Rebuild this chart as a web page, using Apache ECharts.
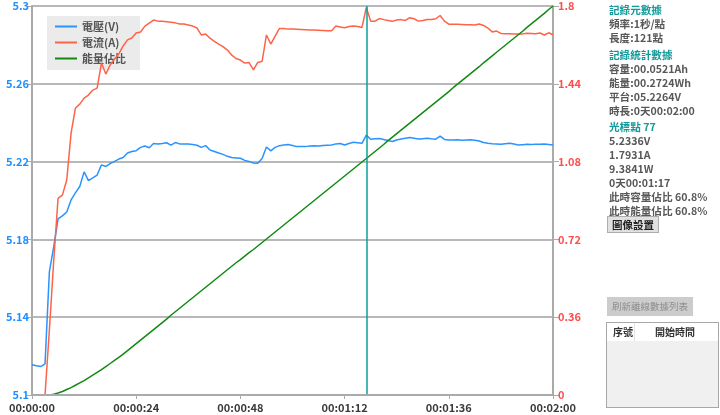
<!DOCTYPE html>
<html>
<head>
<meta charset="utf-8">
<script src="https://cdn.jsdelivr.net/npm/echarts@6/dist/echarts.min.js"></script>
<style>
html,body{margin:0;padding:0;background:#fff;}
#wrap{position:relative;width:720px;height:415px;overflow:hidden;font-family:"Noto Sans CJK TC","Noto Sans",sans-serif;}
#chart{position:absolute;left:0;top:0;width:720px;height:415px;}
.t{position:absolute;left:609px;font-size:10.6px;font-weight:bold;color:#585858;white-space:nowrap;line-height:14px;}
.h{color:#129a9a;}
.btn1{position:absolute;left:607px;top:216px;width:50px;height:15px;background:#e1e1e1;border:1px solid #adadad;font-size:10.5px;font-weight:bold;color:#222;text-align:center;line-height:15px;}
.btn2{position:absolute;left:607px;top:297px;width:86px;height:19px;background:#cccccc;font-size:9.5px;color:#8f8f8f;text-align:center;line-height:19px;}
.tbl{position:absolute;left:606px;top:322px;width:111px;height:84px;border:1px solid #a8a8a8;background:#f0f0f0;}
.thead{position:absolute;left:0;top:0;width:111px;height:18px;background:#fff;}
.th{position:absolute;top:0;font-size:10px;font-weight:bold;color:#333;line-height:18px;}
.div{position:absolute;left:27px;top:0;width:1px;height:18px;background:#e4e4e4;}
</style>
</head>
<body>
<div id="wrap">
<div id="chart"></div>
<div class="t h" style="top:2.5px">記錄元數據</div>
<div class="t" style="top:17px">頻率:1秒/點</div>
<div class="t" style="top:31px">長度:121點</div>
<div class="t h" style="top:47.5px">記錄統計數據</div>
<div class="t" style="top:61.5px">容量:00.0521Ah</div>
<div class="t" style="top:75.5px">能量:00.2724Wh</div>
<div class="t" style="top:89.5px">平台:05.2264V</div>
<div class="t" style="top:103.5px">時長:0天00:02:00</div>
<div class="t h" style="top:120px">光標點 77</div>
<div class="t" style="top:134px">5.2336V</div>
<div class="t" style="top:148px">1.7931A</div>
<div class="t" style="top:162px">9.3841W</div>
<div class="t" style="top:176px">0天00:01:17</div>
<div class="t" style="top:190px">此時容量佔比 60.8%</div>
<div class="t" style="top:203.5px">此時能量佔比 60.8%</div>
<div class="btn1">圖像設置</div>
<div class="btn2">刷新離線數據列表</div>
<div class="tbl"><div class="thead"><div class="th" style="left:6px">序號</div><div class="div"></div><div class="th" style="left:48px">開始時間</div></div></div>
</div>
<script>
// ---- data (1 sample per second, 0..120 s) ----
var voltage = [
5.1155,5.1150,5.1146,5.1160,5.1633,5.1761,5.1905,5.1921,5.1941,5.2003,
5.2039,5.2072,5.2147,5.2102,5.2116,5.2131,5.2183,5.2175,5.2190,5.2201,
5.2213,5.2221,5.2244,5.2252,5.2256,5.2273,5.2280,5.2271,5.2293,5.2291,
5.2293,5.2297,5.2285,5.2298,5.2291,5.2290,5.2291,5.2288,5.2284,5.2273,
5.2282,5.2260,5.2252,5.2244,5.2237,5.2227,5.2221,5.2219,5.2217,5.2206,
5.2201,5.2193,5.2191,5.2216,5.2275,5.2255,5.2273,5.2282,5.2285,5.2288,
5.2283,5.2277,5.2278,5.2277,5.2280,5.2281,5.2280,5.2283,5.2284,5.2285,
5.2291,5.2293,5.2285,5.2293,5.2299,5.2297,5.2294,5.2336,5.2315,5.2318,
5.2319,5.2314,5.2308,5.2303,5.2311,5.2316,5.2320,5.2324,5.2320,5.2316,
5.2318,5.2320,5.2317,5.2315,5.2331,5.2314,5.2311,5.2311,5.2312,5.2310,
5.2311,5.2312,5.2310,5.2306,5.2298,5.2294,5.2292,5.2291,5.2289,5.2292,
5.2294,5.2290,5.2285,5.2287,5.2289,5.2288,5.2289,5.2289,5.2291,5.2288,
5.2285];
var current = [
0,0,0,0,0.30,0.62,0.91,0.925,0.995,1.212,
1.328,1.346,1.374,1.388,1.411,1.420,1.536,1.485,1.527,1.555,
1.578,1.615,1.643,1.652,1.675,1.680,1.707,1.721,1.735,1.730,
1.729,1.727,1.725,1.722,1.717,1.717,1.712,1.707,1.698,1.666,
1.670,1.651,1.636,1.624,1.612,1.596,1.573,1.557,1.550,1.536,
1.538,1.504,1.539,1.544,1.666,1.624,1.661,1.696,1.696,1.693,
1.693,1.692,1.691,1.690,1.689,1.689,1.688,1.687,1.686,1.685,
1.707,1.703,1.699,1.705,1.707,1.705,1.701,1.7931,1.730,1.730,
1.742,1.737,1.733,1.729,1.735,1.737,1.733,1.746,1.741,1.730,
1.733,1.738,1.738,1.741,1.756,1.730,1.716,1.715,1.715,1.714,
1.713,1.713,1.712,1.717,1.710,1.698,1.680,1.684,1.673,1.672,
1.672,1.671,1.670,1.671,1.674,1.673,1.672,1.675,1.666,1.676,
1.667];
var energyPct = [
0,0,0,0,0,0.2,0.5,0.9,1.4,1.9,
2.5,3.1,3.7,4.4,5.1,5.8,6.5,7.3,8.1,8.9,
9.7,10.5,11.4,12.3,13.2,14.1,15.0,15.9,16.8,17.7,
18.6,19.5,20.5,21.4,22.3,23.2,24.1,25.0,25.9,26.8,
27.7,28.6,29.5,30.4,31.3,32.2,33.1,34.0,34.8,35.7,
36.6,37.4,38.3,39.2,40.1,41.0,41.9,42.8,43.7,44.6,
45.5,46.4,47.3,48.2,49.1,50.0,50.9,51.8,52.7,53.6,
54.5,55.4,56.3,57.2,58.1,59.0,59.9,60.8,61.7,62.6,
63.5,64.4,65.4,66.3,67.2,68.1,69.0,69.9,70.8,71.7,
72.6,73.5,74.4,75.3,76.2,77.1,78.0,79.0,79.9,80.8,
81.7,82.6,83.5,84.4,85.4,86.3,87.2,88.1,89.0,89.9,
90.8,91.7,92.6,93.5,94.5,95.4,96.3,97.2,98.1,99.1,
100];
var seriesNames = ['電壓(V)','電流(A)','能量佔比'];
var cursorSecond = 77;

function pairs(arr){ return arr.map(function(v,i){ return [i, v]; }); }
function pad(n){ return (n<10?'0':'')+n; }
function hms(s){ s=Math.round(s); return pad(Math.floor(s/3600))+':'+pad(Math.floor(s%3600/60))+':'+pad(s%60); }

var FONT = '"Noto Sans CJK TC","Noto Sans",sans-serif';
var chart = echarts.init(document.getElementById('chart'), null, {renderer:'canvas'});
chart.setOption({
  animation:false,
  backgroundColor:'#fff',
  grid:{left:32,right:167,top:6,bottom:20,containLabel:false},
  legend:{
    orient:'vertical', left:47, top:16, z:1,
    padding:[5,14,6,8], itemGap:5,
    backgroundColor:'#ebebeb',
    icon:'rect', itemWidth:22, itemHeight:2,
    textStyle:{color:'#555',fontSize:11,fontWeight:'bold',fontFamily:FONT},
    data:seriesNames
  },
  xAxis:{
    type:'value', min:0, max:120, interval:24, z:5,
    axisLine:{lineStyle:{color:'#aaaaaa',width:2}},
    axisTick:{show:true,length:4,lineStyle:{color:'#aaaaaa',width:1}},
    axisLabel:{color:'#3a3a3a',fontSize:11,fontWeight:'bold',fontFamily:FONT,margin:7,formatter:function(v){return hms(v);}},
    splitLine:{show:false}
  },
  yAxis:[
    {type:'value', position:'left', min:5.1, max:5.3, interval:0.04, z:0,
     axisLine:{show:true,lineStyle:{color:'#aaaaaa',width:2}},
     axisTick:{show:true,length:5,lineStyle:{color:'#aaaaaa'}},
     axisLabel:{color:'#1e8fff',fontSize:11,fontWeight:'bold',fontFamily:FONT,margin:3,formatter:function(v){return String(+v.toFixed(2));}},
     splitLine:{show:true,lineStyle:{color:'#b8b8b8',width:2}}},
    {type:'value', position:'right', min:0, max:1.8, interval:0.36, z:0,
     axisLine:{show:true,lineStyle:{color:'#aaaaaa',width:2}},
     axisTick:{show:true,length:6,lineStyle:{color:'#aaaaaa'}},
     axisLabel:{color:'#ff4d4d',fontSize:11,fontWeight:'bold',fontFamily:FONT,margin:5,formatter:function(v){return String(+v.toFixed(2));}},
     splitLine:{show:false}},
    {type:'value', min:0, max:100, show:false}
  ],
  series:[
    {name:seriesNames[0], type:'line', yAxisIndex:0, z:3, data:pairs(voltage), showSymbol:false,
     lineStyle:{color:'#2a93ff',width:1.5}, itemStyle:{color:'#2a93ff'},
     markLine:{silent:true,symbol:['none','none'],label:{show:false},
       lineStyle:{color:'#0aa0a0',width:1.5,type:'solid'},data:[{xAxis:cursorSecond}]}},
    {name:seriesNames[1], type:'line', yAxisIndex:1, z:3, data:pairs(current), showSymbol:false,
     lineStyle:{color:'#ff6347',width:1.5}, itemStyle:{color:'#ff6347'}},
    {name:seriesNames[2], type:'line', yAxisIndex:2, z:3, data:pairs(energyPct), showSymbol:false,
     lineStyle:{color:'#118a11',width:1.5}, itemStyle:{color:'#118a11'}}
  ]
});
</script>
</body>
</html>
